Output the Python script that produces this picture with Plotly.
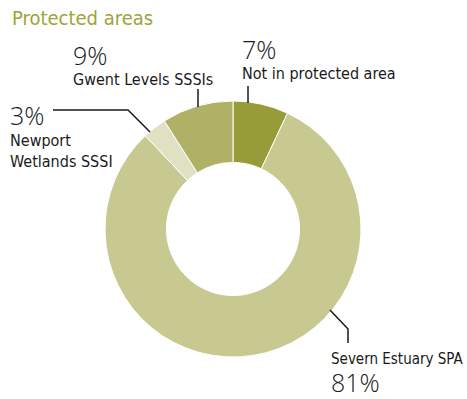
import plotly.graph_objects as go

W, H = 467, 399

categories = ["Not in protected area", "Severn Estuary SPA", "Newport Wetlands SSSI", "Gwent Levels SSSIs"]
values = [7, 81, 3, 9]
colors = ["#979b38", "#c8c990", "#e0e1c3", "#b0b166"]
pct_labels = ["7%", "81%", "3%", "9%"]

cx, cy, R = 233, 229, 128

def px(x):
    return x / W

def py(y):
    return 1 - y / H

fig = go.Figure(go.Pie(
    labels=categories,
    values=values,
    marker=dict(colors=colors, line=dict(color="white", width=1)),
    hole=0.52,
    sort=False,
    direction="clockwise",
    rotation=0,
    textinfo="none",
    hoverinfo="label+percent",
    domain=dict(x=[px(cx - R), px(cx + R)], y=[py(cy + R), py(cy - R)]),
    showlegend=False,
))

FONT = "DejaVu Sans Condensed, Liberation Sans Narrow, sans-serif"
NUMSPAN = "<span style='font-family:Open Sans;font-size:25px;font-weight:300'>{}</span>"

def num(t):
    return NUMSPAN.format(t)

def lbl(t, size=16):
    return "<span style='font-size:{}px'>{}</span>".format(size, t)

anns = [
    # text, x, y(top), base size
    ("Protected areas", 10, 4, 20, "#9da43a"),
    (num(pct_labels[3]) + "<br>" + lbl(categories[3]), 71, 36, 15.4, "#1a1a1a"),
    (num(pct_labels[0]) + "<br>" + lbl(categories[0]), 240, 30, 15.0, "#1a1a1a"),
    (num(pct_labels[2]) + "<br>" + lbl("Newport") + "<br>" + lbl("Wetlands SSSI"), 8, 96, 16.2, "#1a1a1a"),
    (lbl(categories[1], 15) + "<br>" + num(pct_labels[1]), 329, 348, 21.5, "#1a1a1a"),
]
annotations = []
for text, x, y, size, color in anns:
    annotations.append(dict(text=text, x=px(x), y=py(y), xref="paper", yref="paper",
                            xanchor="left", yanchor="top", showarrow=False,
                            font=dict(family=FONT, size=size, color=color), align="left"))

line_paths = [
    [(198, 89), (198, 107)],
    [(248, 86), (248, 103)],
    [(53, 110), (128, 110), (150, 132)],
    [(330, 310), (348, 329), (348, 343)],
]
shapes = []
for pts in line_paths:
    path = "M " + " L ".join(f"{px(x)},{py(y)}" for x, y in pts)
    shapes.append(dict(type="path", path=path, xref="paper", yref="paper",
                       line=dict(color="#1a1a1a", width=1.5)))

fig.update_layout(
    width=W, height=H,
    margin=dict(l=0, r=0, t=0, b=0),
    paper_bgcolor="white", plot_bgcolor="white",
    annotations=annotations,
    shapes=shapes,
)

fig.write_html("out.html")
